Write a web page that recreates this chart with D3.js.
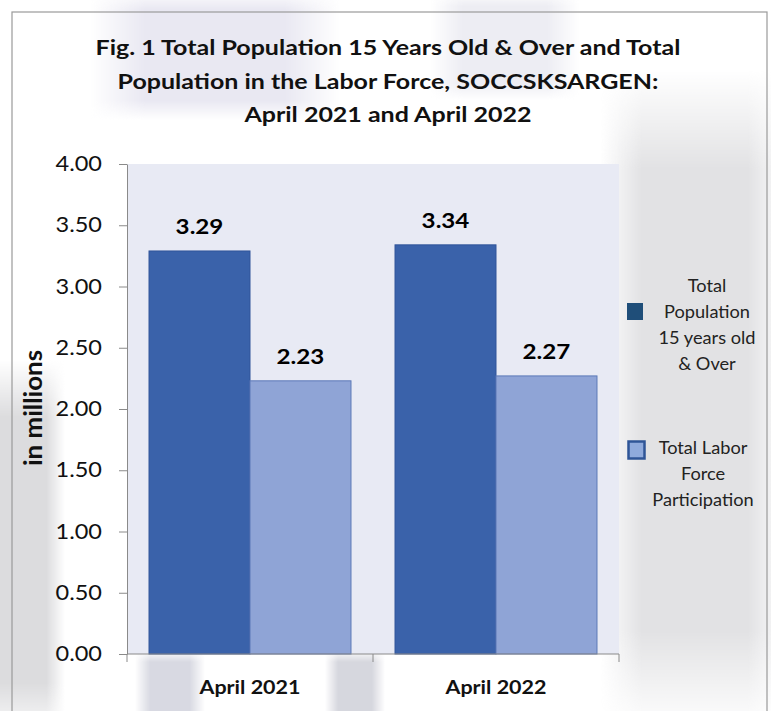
<!DOCTYPE html>
<html>
<head>
<meta charset="utf-8">
<script src="https://cdn.jsdelivr.net/npm/d3@7"></script>
<style>
  body { margin: 0; background: #fff; }
  svg { display: block; }
</style>
</head>
<body>
<div id="container"></div>
<script>
/* DATA */
const periods = ["April 2021", "April 2022"];
const seriesNames = ["Total Population 15 years old & Over", "Total Labor Force Participation"];
const population15 = [3.29, 3.34];
const laborForce = [2.23, 2.27];
const yTicks = [0, 0.5, 1, 1.5, 2, 2.5, 3, 3.5, 4];
const titleLines = [
  "Fig. 1 Total Population 15 Years Old & Over and Total",
  "Population in the Labor Force, SOCCSKSARGEN:",
  "April 2021 and April 2022"
];
const legendLines = [
  ["Total", "Population", "15 years old", "& Over"],
  ["Total Labor", "Force", "Participation"]
];

/* CONSTANTS */
const width = 771, height = 711;
const plot = { left: 127, right: 619, top: 164, bottom: 654 };
const font = "Lato, 'Open Sans', sans-serif";
const barFill = ["#3A62AA", "#8FA4D6"];
const barStroke = ["#30549A", "#5C79B8"];
const swatchFill = ["#1F4E79", "#8FAADC"];

const rows = periods.map((p, i) => ({ period: p, values: [population15[i], laborForce[i]] }));

// the original font is drawn wider than Lato, so widen the glyphs a bit
function stretch(sel, sx) {
  sel.each(function () {
    const w = this.getComputedTextLength();
    d3.select(this)
      .attr("textLength", w * sx)
      .attr("lengthAdjust", "spacingAndGlyphs");
  });
}

const svg = d3.select("#container")
  .append("svg")
  .attr("width", width)
  .attr("height", height);

/* BACKGROUND (washed-out photo behind the chart) */
const defs = svg.append("defs");
// soft-edged patches: each one fades in and out horizontally and vertically
const patches = [
  { x: 90, y: -10, w: 250, h: 130, c: "#e9e8f2" },
  { x: 430, y: -10, w: 150, h: 110, c: "#ededf3" },
  { x: 600, y: 70, w: 190, h: 660, c: "#e2e2e4" },
  { x: -20, y: 360, w: 85, h: 380, c: "#dcdcde" },
  { x: 135, y: 650, w: 70, h: 80, c: "#d8d9e2" },
  { x: 325, y: 650, w: 60, h: 80, c: "#d6d7de" }
];
patches.forEach((p, i) => {
  const gx = defs.append("linearGradient").attr("id", "gx" + i)
    .attr("x1", 0).attr("x2", 1).attr("y1", 0).attr("y2", 0);
  gx.append("stop").attr("offset", "0%").attr("stop-color", "#fff").attr("stop-opacity", 0);
  gx.append("stop").attr("offset", "22%").attr("stop-color", "#fff").attr("stop-opacity", 1);
  gx.append("stop").attr("offset", "78%").attr("stop-color", "#fff").attr("stop-opacity", 1);
  gx.append("stop").attr("offset", "100%").attr("stop-color", "#fff").attr("stop-opacity", 0);
  const gy = defs.append("linearGradient").attr("id", "gy" + i)
    .attr("x1", 0).attr("x2", 0).attr("y1", 0).attr("y2", 1);
  gy.append("stop").attr("offset", "0%").attr("stop-color", "#fff").attr("stop-opacity", 0);
  gy.append("stop").attr("offset", "15%").attr("stop-color", "#fff").attr("stop-opacity", 1);
  gy.append("stop").attr("offset", "85%").attr("stop-color", "#fff").attr("stop-opacity", 1);
  gy.append("stop").attr("offset", "100%").attr("stop-color", "#fff").attr("stop-opacity", 0);
  const m = defs.append("mask").attr("id", "m" + i)
    .attr("maskUnits", "userSpaceOnUse")
    .attr("x", 0).attr("y", 0).attr("width", width).attr("height", height);
  m.append("rect").attr("x", p.x).attr("y", p.y).attr("width", p.w).attr("height", p.h)
    .attr("fill", `url(#gx${i})`);
  const m2 = defs.append("mask").attr("id", "n" + i)
    .attr("maskUnits", "userSpaceOnUse")
    .attr("x", 0).attr("y", 0).attr("width", width).attr("height", height);
  m2.append("rect").attr("x", p.x).attr("y", p.y).attr("width", p.w).attr("height", p.h)
    .attr("fill", `url(#gy${i})`);
  svg.append("g").attr("mask", `url(#n${i})`)
    .append("rect")
    .attr("x", p.x).attr("y", p.y).attr("width", p.w).attr("height", p.h)
    .attr("fill", p.c)
    .attr("mask", `url(#m${i})`);
});

// frame
svg.append("rect")
  .attr("x", 12).attr("y", 12)
  .attr("width", 755).attr("height", 720)
  .attr("fill", "none")
  .attr("stroke", "#9a9a9a")
  .attr("stroke-width", 1.2);

/* SCALES */
const yScale = d3.scaleLinear()
  .domain([0, 4])
  .range([plot.bottom, plot.top]);

const x0 = d3.scaleBand()
  .domain(periods)
  .range([plot.left, plot.right])
  .paddingInner(0)
  .paddingOuter(0);

const x1 = d3.scaleBand()
  .domain(d3.range(seriesNames.length))
  .range([0, x0.bandwidth()])
  .paddingInner(0)
  .paddingOuter(0.218);

// plot area
svg.append("rect")
  .attr("x", plot.left).attr("y", plot.top)
  .attr("width", plot.right - plot.left)
  .attr("height", plot.bottom - plot.top)
  .attr("fill", "#E8EAF4");

/* TITLE */
svg.append("g").selectAll("text")
  .data(titleLines)
  .join("text")
  .attr("x", 388)
  .attr("y", (d, i) => 55 + i * 33.5)
  .attr("text-anchor", "middle")
  .style("font-family", font)
  .style("font-weight", "bold")
  .style("font-size", "21px")
  .style("fill", "#111")
  .text(d => d)
  .call(stretch, 1.19);

/* BARS */
const groups = svg.append("g").selectAll("g")
  .data(rows)
  .join("g")
  .attr("transform", d => `translate(${x0(d.period)},0)`);

groups.selectAll("rect")
  .data(d => d.values.map((v, i) => ({ i, v })))
  .join("rect")
  .attr("x", d => x1(d.i))
  .attr("y", d => yScale(d.v))
  .attr("width", x1.bandwidth())
  .attr("height", d => yScale(0) - yScale(d.v))
  .attr("fill", d => barFill[d.i])
  .attr("stroke", d => barStroke[d.i])
  .attr("stroke-width", 1);

groups.selectAll("text")
  .data(d => d.values.map((v, i) => ({ i, v })))
  .join("text")
  .attr("x", d => x1(d.i) + x1.bandwidth() / 2)
  .attr("y", d => yScale(d.v) - 17)
  .attr("text-anchor", "middle")
  .style("font-family", font)
  .style("font-weight", "bold")
  .style("font-size", "21px")
  .style("fill", "#000")
  .text(d => d.v.toFixed(2))
  .call(stretch, 1.15);

/* AXES */
const yAxis = d3.axisLeft(yScale)
  .tickValues(yTicks)
  .tickFormat(d3.format(".2f"))
  .tickSize(8)
  .tickSizeOuter(0)
  .tickPadding(17);

const yG = svg.append("g")
  .attr("transform", `translate(${plot.left},0)`)
  .call(yAxis);
yG.select(".domain").attr("stroke", "#8a8a8a");
yG.selectAll(".tick line").attr("stroke", "#8a8a8a");
yG.selectAll(".tick text")
  .style("font-family", font)
  .style("font-size", "21px")
  .style("fill", "#111")
  .call(stretch, 1.12);

// x axis line and band boundary ticks
const xG = svg.append("g");
xG.append("line")
  .attr("x1", plot.left).attr("x2", plot.right)
  .attr("y1", yScale(0)).attr("y2", yScale(0))
  .attr("stroke", "#8a8a8a");
const bounds = periods.map(p => x0(p)).concat([x0(periods[periods.length - 1]) + x0.bandwidth()]);
xG.selectAll("line.tick")
  .data(bounds)
  .join("line")
  .attr("class", "tick")
  .attr("x1", d => d).attr("x2", d => d)
  .attr("y1", yScale(0)).attr("y2", yScale(0) + 8)
  .attr("stroke", "#8a8a8a");
xG.selectAll("text")
  .data(periods)
  .join("text")
  .attr("x", d => x0(d) + x0.bandwidth() / 2)
  .attr("y", 694)
  .attr("text-anchor", "middle")
  .style("font-family", font)
  .style("font-weight", "bold")
  .style("font-size", "19px")
  .style("fill", "#111")
  .text(d => d)
  .call(stretch, 1.13);

// y axis title
svg.append("text")
  .attr("transform", "translate(42,408) rotate(-90)")
  .attr("text-anchor", "middle")
  .style("font-family", font)
  .style("font-weight", "bold")
  .style("font-size", "24px")
  .style("fill", "#111")
  .text("in millions")
  .call(stretch, 1.08);

/* LEGEND */
const legendMid = [324.5, 474];
const legend = svg.append("g");
legend.append("rect")
  .attr("x", 627).attr("y", 303).attr("width", 16).attr("height", 17)
  .attr("fill", swatchFill[0]);
legend.append("rect")
  .attr("x", 628.5).attr("y", 441.5).attr("width", 16).attr("height", 17)
  .attr("fill", swatchFill[1])
  .attr("stroke", "#2F5597")
  .attr("stroke-width", 2.5);

legendLines.forEach((lines, k) => {
  const cx = k === 0 ? 707 : 703;
  const start = legendMid[k] - (lines.length - 1) * 26 / 2;
  legend.append("g").selectAll("text")
    .data(lines)
    .join("text")
    .attr("x", cx)
    .attr("y", (d, i) => start + i * 26 + 6)
    .attr("text-anchor", "middle")
    .style("font-family", font)
    .style("font-size", "17px")
    .style("fill", "#222")
    .text(d => d)
    .call(stretch, 1.07);
});
</script>
</body>
</html>
